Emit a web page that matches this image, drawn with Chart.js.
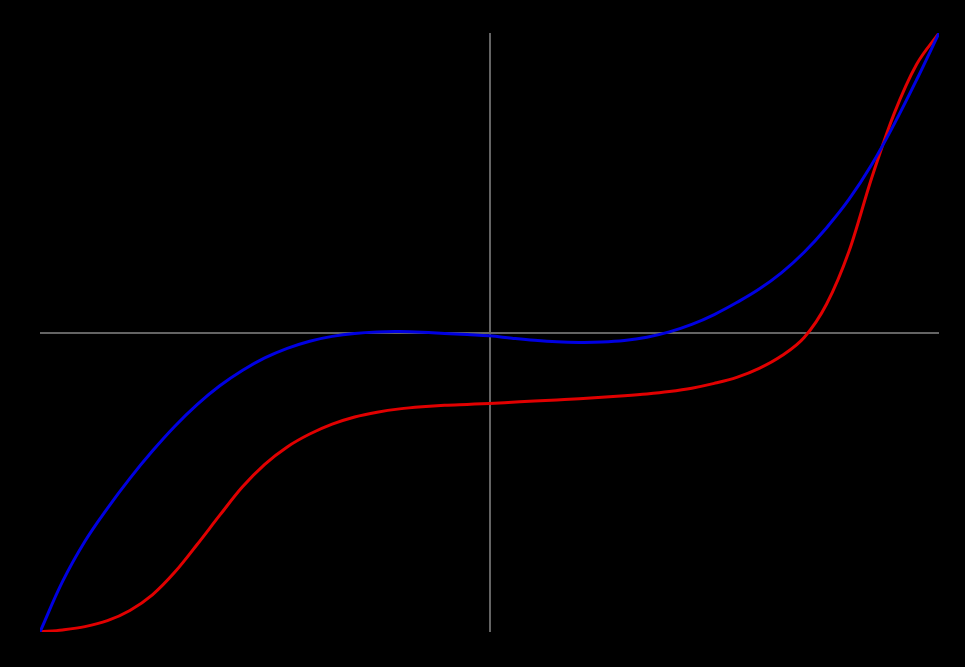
<!DOCTYPE html>
<html lang="en">
<head>
  <meta charset="UTF-8">
  <title>Two curves</title>
  <script src="https://cdn.jsdelivr.net/npm/chart.js"></script>
  <style>
    html, body { margin: 0; padding: 0; background: #000; }
    canvas { display: block; }
  </style>
</head>
<body>
  <canvas id="curves" width="965" height="667"></canvas>

  <script>
    const xValues = [
      -1.00, -0.95, -0.90, -0.85, -0.80, -0.75, -0.70, -0.65, -0.60, -0.55,
      -0.50, -0.45, -0.40, -0.35, -0.30, -0.25, -0.20, -0.15, -0.10, -0.05,
       0.00,  0.05,  0.10,  0.15,  0.20,  0.25,  0.30,  0.35,  0.40,  0.45,
       0.50,  0.55,  0.60,  0.65,  0.70,  0.75,  0.80,  0.85,  0.90,  0.95,
       1.00
    ];

    const blueValues = [
      -1.000, -0.832, -0.697, -0.587, -0.487, -0.396, -0.313, -0.240, -0.178, -0.127,
      -0.085, -0.053, -0.029, -0.013, -0.003,  0.002,  0.003,  0.001, -0.003, -0.007,
      -0.011, -0.019, -0.026, -0.031, -0.033, -0.032, -0.027, -0.016,  0.002,  0.027,
       0.060,  0.100,  0.145,  0.200,  0.268,  0.350,  0.445,  0.560,  0.695,  0.843,
       1.000
    ];

    const redValues = [
      -1.000, -0.993, -0.982, -0.962, -0.928, -0.876, -0.800, -0.707, -0.610, -0.516,
      -0.440, -0.382, -0.339, -0.306, -0.282, -0.266, -0.255, -0.248, -0.243, -0.240,
      -0.237, -0.233, -0.229, -0.225, -0.221, -0.216, -0.211, -0.205, -0.197, -0.186,
      -0.170, -0.150, -0.120, -0.078, -0.017,  0.095,  0.272,  0.515,  0.730,  0.895,
       1.000
    ];

    function points(ys) {
      return xValues.map((x, i) => ({ x: x, y: ys[i] }));
    }

    // only the zero line of each axis is drawn
    function zeroLine(ctx) {
      return ctx.tick && ctx.tick.value === 0 ? 'rgb(100,100,100)' : 'rgba(0,0,0,0)';
    }

    const ctx = document.getElementById('curves').getContext('2d');
    new Chart(ctx, {
      type: 'line',
      data: {
        datasets: [
          {
            label: 'blue',
            data: points(blueValues),
            borderColor: 'rgb(0,0,225)',
            borderWidth: 3,
            pointRadius: 0,
            fill: false,
            tension: 0.4
          },
          {
            label: 'red',
            data: points(redValues),
            borderColor: 'rgb(225,0,0)',
            borderWidth: 3,
            pointRadius: 0,
            fill: false,
            cubicInterpolationMode: 'monotone'
          }
        ]
      },
      options: {
        responsive: false,
        animation: false,
        layout: { padding: { left: 40, right: 26, top: 33, bottom: 35 } },
        plugins: {
          legend: { display: false },
          tooltip: { enabled: false }
        },
        scales: {
          x: {
            type: 'linear',
            min: -1,
            max: 1,
            ticks: { display: false, stepSize: 1 },
            border: { display: false },
            grid: { color: zeroLine, lineWidth: 2, drawTicks: false }
          },
          y: {
            type: 'linear',
            min: -1,
            max: 1,
            ticks: { display: false, stepSize: 1 },
            border: { display: false },
            grid: { color: zeroLine, lineWidth: 2, drawTicks: false }
          }
        }
      }
    });
  </script>
</body>
</html>
